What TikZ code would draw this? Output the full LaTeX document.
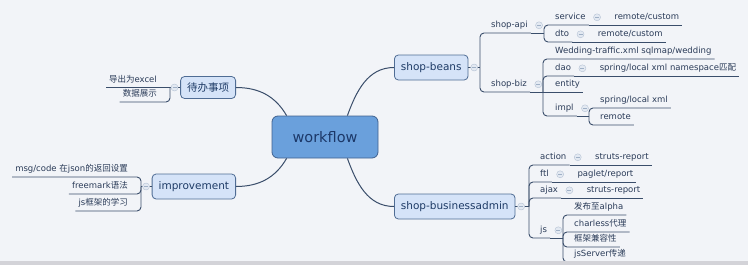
\documentclass[tikz,border=0pt]{standalone}
\usepackage{fontspec}
\setmainfont{DejaVu Sans}
\newfontfamily\cjk{Noto Sans CJK SC}
\newcommand{\zh}[1]{{\cjk #1}}
\usetikzlibrary{positioning}
\definecolor{bgc}{HTML}{F2F4F8}
\definecolor{barc}{HTML}{D3D3D8}
\definecolor{linec}{HTML}{3A4E6B}
\definecolor{rootfill}{HTML}{6AA0DC}
\definecolor{rootdraw}{HTML}{40618F}
\definecolor{roottext}{HTML}{1C3868}
\definecolor{blockfill}{HTML}{D5E3F8}
\definecolor{blockdraw}{HTML}{4F6C94}
\definecolor{blocktext}{HTML}{1E3B66}
\definecolor{leaftext}{HTML}{2A3B58}
\definecolor{foldfill}{HTML}{E3E9F2}
\definecolor{folddraw}{HTML}{B5C2D4}
\definecolor{foldline}{HTML}{9FB0C6}

\begin{document}
\begin{tikzpicture}[x=1pt, y=1pt,
                node distance=4.5pt,
                root/.style={draw=rootdraw, fill=rootfill, rounded corners=6pt, line width=0.8pt,
                             minimum width=106pt, minimum height=42pt, text=roottext,
                             font=\fontsize{14.5}{16}\selectfont},
                block/.style={draw=blockdraw, fill=blockfill, rounded corners=4pt, line width=0.8pt,
                              minimum height=25pt, inner xsep=6.5pt, text=blocktext,
                              font=\fontsize{10.5}{12}\selectfont},
                leaf/.style={inner xsep=3pt, inner ysep=3pt, text height=7pt, text depth=2pt,
                             text=leaftext, font=\fontsize{8.5}{10}\selectfont},
                fold/.style={circle, draw=folddraw, fill=foldfill, minimum size=7pt, inner sep=0pt,
                             path picture={\draw[foldline, line width=0.6pt]
                               ([xshift=-2pt]path picture bounding box.center) --
                               ([xshift=2pt]path picture bounding box.center);}},
                branch/.style={draw=linec, line width=0.9pt, rounded corners=4pt},
                link/.style={draw=linec, line width=1pt}
            ]
            \useasboundingbox (0,0) rectangle (748,-265);
            \fill[bgc] (0,0) rectangle (748,-265);

            % centre and main topics
            \node[root] (wf) at (325,-137) {workflow};
            \node[block, minimum height=22pt, anchor=east] (todo) at (236,-87.5) {\zh{待办事项}};
            \node[block, anchor=east] (impr) at (236,-186.5) {improvement};
            \node[block, anchor=west] (beans) at (394,-67.5) {shop-beans};
            \node[block, anchor=west] (admin) at (394,-206.5) {shop-businessadmin};

            \draw[link] ([xshift=15pt]wf.north west) to[out=120, in=0] (todo.east);
            \draw[link] ([xshift=15pt]wf.south west) to[out=-120, in=0] (impr.east);
            \draw[link] ([xshift=-31pt]wf.north east) to[out=70, in=180] (beans.west);
            \draw[link] ([xshift=-31pt]wf.south east) to[out=-70, in=180] (admin.west);

            \coordinate (beanssp) at (480,-67.5);
            \coordinate (apisp) at (544,-33);
            \coordinate (bizsp) at (543,-92);
            \coordinate (implsp) at (589,-116);
            \coordinate (adminsp) at (529,-206.5);
            \coordinate (jssp) at (563,-238);
            \coordinate (todosp) at (170,-87.5);
            \coordinate (imprsp) at (141,-186.5);

            % shop-beans
            \node[leaf, anchor=south west] (api) at (488,-33) {shop-api};
            \node[leaf, anchor=south west] (biz) at (488,-92) {shop-biz};
            \node[fold, right=of api] (apif) {};
            \node[fold, right=of biz] (bizf) {};
            \node[leaf, anchor=south west] (service) at (552,-25) {service};
            \node[leaf, anchor=south west] (dto) at (552,-42) {dto};
            \node[fold, right=of service] (servicef) {};
            \node[leaf, right=10.5pt of servicef] (rc1) {remote/custom};
            \node[fold, right=of dto] (dtof) {};
            \node[leaf, right=10.5pt of dtof] (rc2) {remote/custom};
            \node[leaf, anchor=south west] (wedding) at (552,-59) {Wedding-traffic.xml sqlmap/wedding};
            \node[leaf, anchor=south west] (dao) at (552,-76) {dao};
            \node[fold, right=of dao] (daof) {};
            \node[leaf, right=10.5pt of daof] (daoxml) {spring/local xml namespace\zh{匹配}};
            \node[leaf, anchor=south west] (entity) at (552,-92) {entity};
            \node[leaf, anchor=south west] (impl) at (552,-116) {impl};
            \node[fold, right=of impl] (implf) {};
            \node[leaf, anchor=south west] (springxml) at (597,-108) {spring/local xml};
            \node[leaf, anchor=south west] (remote) at (597,-125) {remote};

            \draw[branch] (beans.east) -- (beanssp);
            \foreach \c in {api,biz} \draw[branch] (beanssp) |- (\c.south east);
            \draw[branch] (api.south east) -- (apisp);
            \foreach \c in {service,dto} \draw[branch] (apisp) |- (\c.south east);
            \draw[branch] (service.south east) -- (rc1.south east);
            \draw[branch] (dto.south east) -- (rc2.south east);
            \draw[branch] (biz.south east) -- (bizsp);
            \foreach \c in {wedding,dao,impl} \draw[branch] (bizsp) |- (\c.south east);
            \draw[branch] (bizsp) -- (entity.south east);
            \draw[branch] (dao.south east) -- (daoxml.south east);
            \draw[branch] (impl.south east) -- (implsp);
            \foreach \c in {springxml,remote} \draw[branch] (implsp) |- (\c.south east);

            % shop-businessadmin
            \node[leaf, anchor=south west] (action) at (537,-165) {action};
            \node[fold, right=of action] (actionf) {};
            \node[leaf, right=10.5pt of actionf] (struts1) {struts-report};
            \node[leaf, anchor=south west] (ftl) at (537,-182) {ftl};
            \node[fold, right=of ftl] (ftlf) {};
            \node[leaf, right=10.5pt of ftlf] (paglet) {paglet/report};
            \node[leaf, anchor=south west] (ajax) at (537,-198) {ajax};
            \node[fold, right=of ajax] (ajaxf) {};
            \node[leaf, right=10.5pt of ajaxf] (struts2) {struts-report};
            \node[leaf, anchor=south west] (js) at (537,-238) {js};
            \node[fold, right=of js] (jsf) {};
            \node[leaf, anchor=south west] (alpha) at (571,-215) {\zh{发布至}alpha};
            \node[leaf, anchor=south west] (charless) at (571,-232) {charless\zh{代理}};
            \node[leaf, anchor=south west] (compat) at (571,-247) {\zh{框架兼容性}};
            \node[leaf, anchor=south west] (jsserver) at (571,-262) {jsServer\zh{传递}};

            \draw[branch] (admin.east) -- (adminsp);
            \foreach \c in {action,ftl,ajax,js} \draw[branch] (adminsp) |- (\c.south east);
            \draw[branch] (action.south east) -- (struts1.south east);
            \draw[branch] (ftl.south east) -- (paglet.south east);
            \draw[branch] (ajax.south east) -- (struts2.south east);
            \draw[branch] (js.south east) -- (jssp);
            \foreach \c in {alpha,charless,compat,jsserver} \draw[branch] (jssp) |- (\c.south east);

            % left topics
            \node[leaf, anchor=south east] (export) at (160,-87.5) {\zh{导出为}excel};
            \node[leaf, anchor=south east] (show) at (160,-102) {\zh{数据展示}};
            \node[leaf, anchor=south east] (msg) at (131,-177) {msg/code \zh{在}json\zh{的返回设置}};
            \node[leaf, anchor=south east] (freemark) at (131,-194) {freemark\zh{语法}};
            \node[leaf, anchor=south east] (jsframe) at (131,-211) {js\zh{框架的学习}};

            \draw[branch] (todo.west) -- (todosp);
            \draw[branch] (todosp) -- (export.south west);
            \draw[branch] (todosp) |- (show.south west);
            \draw[branch] (impr.west) -- (imprsp);
            \foreach \c in {msg,freemark,jsframe} \draw[branch] (imprsp) |- (\c.south west);

            \node[fold, right=2pt of beans] (beansf) {};
            \node[fold, right=2pt of admin] (adminf) {};
            \node[fold, left=2pt of todo] (todof) {};
            \node[fold, left=2pt of impr] (imprf) {};

            \fill[barc] (0,-260.5) rectangle (748,-265);
\end{tikzpicture}
\end{document}
